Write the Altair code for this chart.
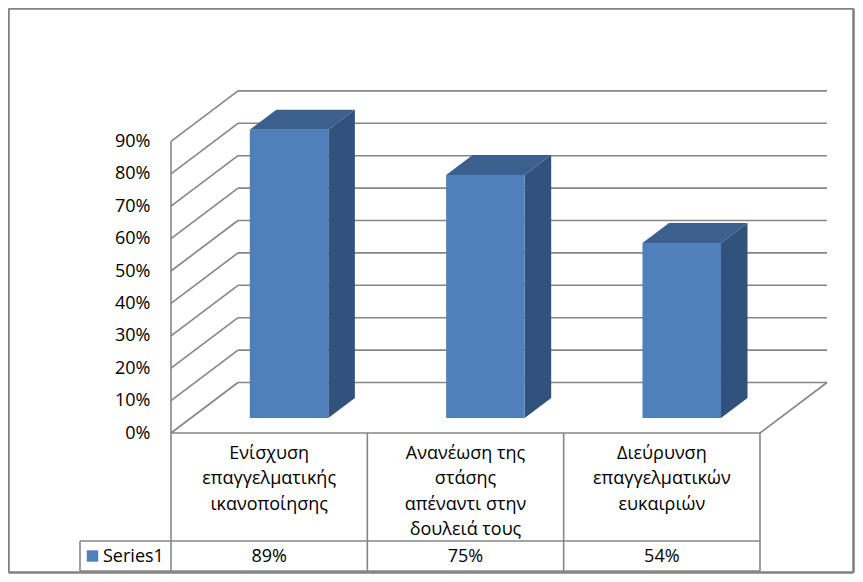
import altair as alt
import pandas as pd

categories = ["Ενίσχυση\nεπαγγελματικής\nικανοποίησης",
              "Ανανέωση της\nστάσης\nαπέναντι στην\nδουλειά τους",
              "Διεύρυνση\nεπαγγελματικών\nευκαιριών"]
values = [0.89, 0.75, 0.54]
value_labels = ["89%", "75%", "54%"]
ticks = [0, .1, .2, .3, .4, .5, .6, .7, .8, .9]
series_name = "Series1"

# scale geometry: x in category units, y in percent fraction
W, H = 847, 566
PX_X = 196.33
PX_Y = 324.0
X_DOMAIN = [-163 / PX_X, (W - 163) / PX_X]
Y_DOMAIN = [(425 - H) / PX_Y, 425 / PX_Y]
DX, DY = 67 / PX_X, 50.5 / PX_Y          # floor depth, in data units
F1, F2 = 0.297, 0.693                    # bar's front and back depth
BAR = 0.4                                # bar width in category units
ROW1, ROW2 = -108 / PX_Y, -138 / PX_Y    # table row bottoms
TABLE_L = -91 / PX_X

xs = alt.Scale(domain=X_DOMAIN, range=[0, W], nice=False, zero=False)
ys = alt.Scale(domain=Y_DOMAIN, range=[H, 0], nice=False, zero=False)
N = len(categories)

def X(f="x", **k):
    return alt.X(f, type="quantitative", scale=xs, axis=None, title=None, **k)

def Y(f="y", axis=None, **k):
    return alt.Y(f, type="quantitative", scale=ys, axis=axis, title=None, **k)

# grid and table segments
seg = []
for t in ticks:
    seg.append((0, t, DX, t + DY))
    seg.append((DX, t + DY, N + DX, t + DY))
seg += [(N, 0, N + DX, DY), (0, 0, 0, ticks[-1]), (0, 0, N, 0)]
table = [(i, 0, i, ROW2) for i in range(N + 1)]
table += [(TABLE_L, ROW1, N, ROW1), (TABLE_L, ROW2, N, ROW2), (TABLE_L, ROW1, TABLE_L, ROW2)]
seg_df = pd.DataFrame(seg + table, columns=["x", "y", "x2", "y2"])

lines = alt.Chart(seg_df).mark_rule(color="#868686", strokeWidth=1.6).encode(
    x=X(), y=Y(), x2="x2:Q", y2="y2:Q")

# outer frame of the chart
fx0, fx1 = X_DOMAIN[0] + 0.5 / PX_X, X_DOMAIN[0] + 845.5 / PX_X
fy0, fy1 = Y_DOMAIN[1] - 0.5 / PX_Y, Y_DOMAIN[1] - 564.5 / PX_Y
frame_df = pd.DataFrame([(fx0, fy0, fx1, fy0), (fx0, fy1, fx1, fy1),
                         (fx0, fy0, fx0, fy1), (fx1, fy0, fx1, fy1)],
                        columns=["x", "y", "x2", "y2"])
frame = alt.Chart(frame_df).mark_rule(color="#828282", strokeWidth=2.6).encode(
    x=X(), y=Y(), x2="x2:Q", y2="y2:Q")

# bars
front, side, top = [], [], []
for i, v in enumerate(values):
    l = i + (1 - BAR) / 2
    r = l + BAR
    front.append(dict(x=l + F1 * DX, x2=r + F1 * DX, y=F1 * DY, y2=v + F1 * DY))
    for f in (F1, F2):
        side.append(dict(bar=i, x=r + f * DX, y=v + f * DY, y2=f * DY))
        top.append(dict(bar=i, y=v + f * DY, x=l + f * DX, x2=r + f * DX))

front_m = alt.Chart(pd.DataFrame(front)).mark_rect(color="#4F80BC").encode(
    x=X(), x2="x2:Q", y=Y(), y2="y2:Q")
side_m = alt.Chart(pd.DataFrame(side)).mark_area(color="#31527C").encode(
    x=X(), y=Y(), y2="y2:Q", detail="bar:N")
top_m = alt.Chart(pd.DataFrame(top)).mark_area(color="#3B608E", orient="horizontal").encode(
    y=Y(), x=X(), x2="x2:Q", detail="bar:N")

FONT = "Open Sans"
FS = 18

# value axis, moved inward from the plot's left edge
axis_df = pd.DataFrame({"y": ticks})
axis_layer = alt.Chart(axis_df).mark_point(opacity=0).encode(
    y=Y(axis=alt.Axis(values=ticks, format=".0%", domain=False, ticks=False, grid=False,
                      offset=-142, labelPadding=0, labelFont=FONT, labelFontSize=FS,
                      labelColor="#000000")))

# table text
cat_df = pd.DataFrame({"x": [i + .5 for i in range(N)], "y": [0] * N, "t": categories})
cat_text = alt.Chart(cat_df).mark_text(font=FONT, fontSize=FS, lineBreak="\n", lineHeight=25.4,
                                       baseline="top", dy=12, color="#000000").encode(
    x=X(), y=Y(), text="t:N")
val_df = pd.DataFrame({"x": [i + .5 for i in range(N)], "y": [(ROW1 + ROW2) / 2] * N, "t": value_labels})
val_text = alt.Chart(val_df).mark_text(font=FONT, fontSize=FS, dy=1, color="#000000").encode(
    x=X(), y=Y(), text="t:N")
key_df = pd.DataFrame({"x": [-68 / PX_X], "y": [(ROW1 + ROW2) / 2], "t": [series_name]})
key_text = alt.Chart(key_df).mark_text(font=FONT, fontSize=FS, dy=1, align="left", color="#000000").encode(
    x=X(), y=Y(), text="t:N")
swatch_df = pd.DataFrame({"x": [-78.5 / PX_X], "y": [(ROW1 + ROW2) / 2]})
swatch = alt.Chart(swatch_df).mark_point(shape="square", filled=True, size=130, opacity=1,
                                         color="#4F80BC").encode(x=X(), y=Y())

chart = alt.layer(axis_layer, lines, side_m, top_m, front_m, frame, cat_text, val_text,
                  key_text, swatch).resolve_axis(y="independent").properties(
    width=W, height=H, padding=0, background="#FFFFFF",
    autosize=alt.AutoSizeParams(type="none"),
).configure_view(stroke=None)

chart.save("out.html", embed_options={"renderer": "svg", "actions": False})
